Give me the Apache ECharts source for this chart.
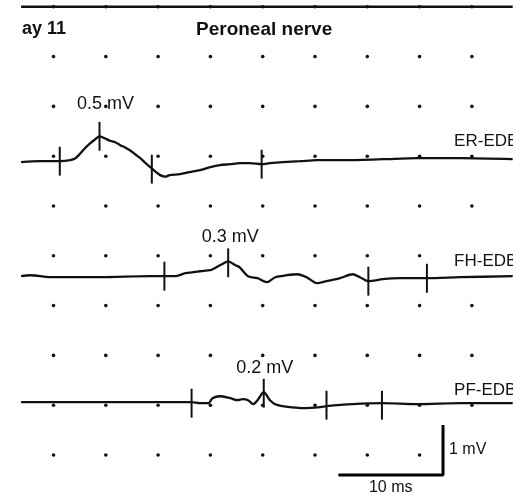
<!DOCTYPE html>
<html>
<head>
<meta charset="utf-8">
<title>Peroneal nerve</title>
<script src="https://cdn.jsdelivr.net/npm/echarts@6.0.0/dist/echarts.min.js"></script>
<style>
    html, body { margin: 0; padding: 0; background: #fff; }
    #chartWrapper { width: 513px; height: 502px; }
</style>
</head>
<body>
<div id="chartWrapper"></div>
<script>
// time in ms, amplitude in mV relative to each trace's own baseline
var erTime = [-3.1, -1.3, 0.6, 1.6, 2.1, 2.5, 3.0, 3.5, 4.0, 4.4, 4.9, 5.4, 5.9, 6.4, 6.8, 7.3, 7.8, 8.3, 8.7, 9.2, 9.7, 10.2, 10.7, 11.1, 12.1, 13.0, 14.0, 15.0, 15.9, 16.9, 17.8, 18.8, 19.9, 20.7, 21.9, 23.6, 25.2, 27.7, 31.5, 34.8, 38.9, 43.9];
var erAmp = [-0.02, 0, 0, 0.02, 0.06, 0.14, 0.26, 0.36, 0.44, 0.50, 0.46, 0.41, 0.38, 0.32, 0.28, 0.22, 0.14, 0.06, -0.02, -0.11, -0.20, -0.28, -0.31, -0.28, -0.26, -0.22, -0.18, -0.12, -0.08, -0.06, -0.04, -0.04, -0.06, -0.04, -0.02, 0, 0.02, 0.02, 0.04, 0.06, 0.06, 0.04];

var fhTime = [-3.1, -2.2, -0.3, 4.4, 9.2, 10.6, 11.6, 12.6, 14.0, 15.0, 15.4, 16.1, 16.7, 17.4, 17.8, 18.6, 19.5, 20.4, 21.2, 22.3, 23.3, 24.2, 25.2, 26.1, 27.4, 28.6, 29.3, 30.1, 31.5, 33.1, 35.7, 38.9, 43.9];
var fhAmp = [0.02, 0.04, 0, 0, 0.02, 0.02, 0.02, 0.08, 0.12, 0.14, 0.18, 0.26, 0.32, 0.24, 0.20, 0.02, -0.02, -0.10, 0, 0.04, 0.06, 0, -0.12, -0.08, -0.02, 0.06, 0, -0.08, -0.04, -0.02, -0.02, 0, 0.02];

var pfTime = [-3.1, 4.4, 13.2, 14.0, 14.8, 15.2, 15.9, 16.9, 17.6, 18.1, 18.6, 19.1, 19.5, 20.1, 20.7, 21.2, 21.9, 22.6, 23.9, 25.5, 26.1, 28.6, 31.4, 34.8, 38.9, 43.9];
var pfAmp = [0, 0, 0, -0.02, -0.02, 0.08, 0.12, 0.08, 0.04, 0.06, 0.04, -0.04, 0.04, 0.20, 0.04, -0.04, -0.08, -0.10, -0.12, -0.10, -0.08, -0.04, -0.02, -0.04, -0.02, -0.02];

// latency cursors (ms) and trace value there (mV)
var erMarkT = [0.6, 4.4, 9.4, 19.9];
var erMarkA = [0, 0.5, -0.16, -0.06];
var fhMarkT = [10.6, 16.7, 30.1, 35.7];
var fhMarkA = [0.02, 0.29, -0.08, -0.02];
var pfMarkT = [13.2, 20.1, 26.1, 31.4];
var pfMarkA = [-0.02, 0.18, -0.06, -0.06];

var traceNames = ['ER-EDB', 'FH-EDB', 'PF-EDB'];
var peakMv = [0.5, 0.3, 0.2];

// previous panel's trace along the top edge
var topTime = [-3.1, 43.9];
var topAmp = [0, 0];

// dot grid: 5 ms by 1 mV
var dotTimes = [0, 5, 10, 15, 20, 25, 30, 35, 40];
var dotLevels = [0, 1, 2, 3, 4, 5, 6, 7, 8, 9];

var scaleMs = 10;
var scaleMv = 1;

// ---- layout ----
var bases = [5.9, 3.57, 1.06];
var topBase = 9;
var tickHalf = 0.29;
var nameT = 38.3;
var nameOffsets = [[0, -20], [0, -16], [0, -12]];
var peakOffsets = [[6, -7], [2, 0], [1, 0]];
var scaleCorner = [37.24, -0.4];
var ink = '#111';
var font = '"Liberation Sans", Arial, sans-serif';

function pairs(times, amps, base) {
    return times.map(function (t, i) { return [t, amps[i] + base]; });
}

function traceSeries(name, times, amps, base, width) {
    return {
        name: name,
        type: 'line',
        data: pairs(times, amps, base),
        symbol: 'none',
        smooth: 0.3,
        lineStyle: { color: ink, width: width },
        z: 4
    };
}

function tickSeries(name, times, amps, base) {
    return {
        name: name + ' cursors',
        type: 'custom',
        data: pairs(times, amps, base),
        renderItem: function (params, api) {
            var a = api.coord([api.value(0), api.value(1) + tickHalf]);
            var b = api.coord([api.value(0), api.value(1) - tickHalf]);
            return {
                type: 'line',
                shape: { x1: a[0], y1: a[1], x2: b[0], y2: b[1] },
                style: { stroke: ink, lineWidth: 2 }
            };
        },
        z: 5
    };
}

// text-only scatter (no symbol), full opacity
function textSeries(name, data, label) {
    label.show = true;
    label.formatter = function (p) { return p.data.text; };
    label.color = '#111';
    label.fontFamily = font;
    return {
        name: name,
        type: 'scatter',
        symbolSize: 0,
        itemStyle: { opacity: 1 },
        data: data,
        label: label,
        z: 6
    };
}

var dots = [];
dotLevels.forEach(function (v) {
    dotTimes.forEach(function (t) { dots.push([t, v]); });
});

var sets = [
    [erTime, erAmp, erMarkT, erMarkA],
    [fhTime, fhAmp, fhMarkT, fhMarkA],
    [pfTime, pfAmp, pfMarkT, pfMarkA]
];

var series = [{
    name: 'grid',
    type: 'scatter',
    data: dots,
    symbol: 'circle',
    symbolSize: 3.6,
    itemStyle: { color: '#111', opacity: 1 },
    z: 2
}, traceSeries('top', topTime, topAmp, topBase, 2.4)];

var peakLabels = [];
var nameLabels = [];
sets.forEach(function (s, i) {
    series.push(traceSeries(traceNames[i], s[0], s[1], bases[i], 2.3));
    series.push(tickSeries(traceNames[i], s[2], s[3], bases[i]));
    peakLabels.push({
        value: [s[2][1], s[3][1] + bases[i] + tickHalf],
        text: peakMv[i] + ' mV',
        label: { offset: peakOffsets[i] }
    });
    nameLabels.push({
        value: [nameT, bases[i]],
        text: traceNames[i],
        label: { offset: nameOffsets[i] }
    });
});

series.push(
    textSeries('amplitudes', peakLabels, { position: 'top', distance: 2, fontSize: 18 }),
    textSeries('names', nameLabels, { position: 'right', distance: 0, fontSize: 17, backgroundColor: '#fff' }),
    {
        name: 'scale bar',
        type: 'line',
        data: [
            [scaleCorner[0] - scaleMs, scaleCorner[1]],
            scaleCorner,
            [scaleCorner[0], scaleCorner[1] + scaleMv]
        ],
        symbol: 'none',
        lineStyle: { color: '#000', width: 3 },
        z: 6
    },
    textSeries('scale text', [
        { value: [scaleCorner[0] - scaleMs / 2, scaleCorner[1]], text: scaleMs + ' ms', label: { position: 'bottom', distance: 5 } },
        { value: [scaleCorner[0], scaleCorner[1] + scaleMv / 2], text: scaleMv + ' mV', label: { position: 'right', distance: 6 } }
    ], { fontSize: 16, backgroundColor: '#fff' })
);

var myChart = echarts.init(document.getElementById('chartWrapper'));

var option = {
    animation: false,
    backgroundColor: '#fff',
    grid: { left: 0, right: 0, top: 0, bottom: 0 },
    xAxis: { type: 'value', min: -5.115, max: 43.93, show: false },
    yAxis: { type: 'value', min: -0.944, max: 9.137, show: false },
    graphic: [{
        type: 'text',
        left: 22, top: 20,
        style: { text: 'ay 11', fill: '#111', font: 'bold 18px ' + font }
    }, {
        type: 'text',
        left: 196, top: 20,
        style: { text: 'Peroneal nerve', fill: '#111', font: 'bold 19px ' + font }
    }],
    series: series
};

myChart.setOption(option);
</script>
</body>
</html>
